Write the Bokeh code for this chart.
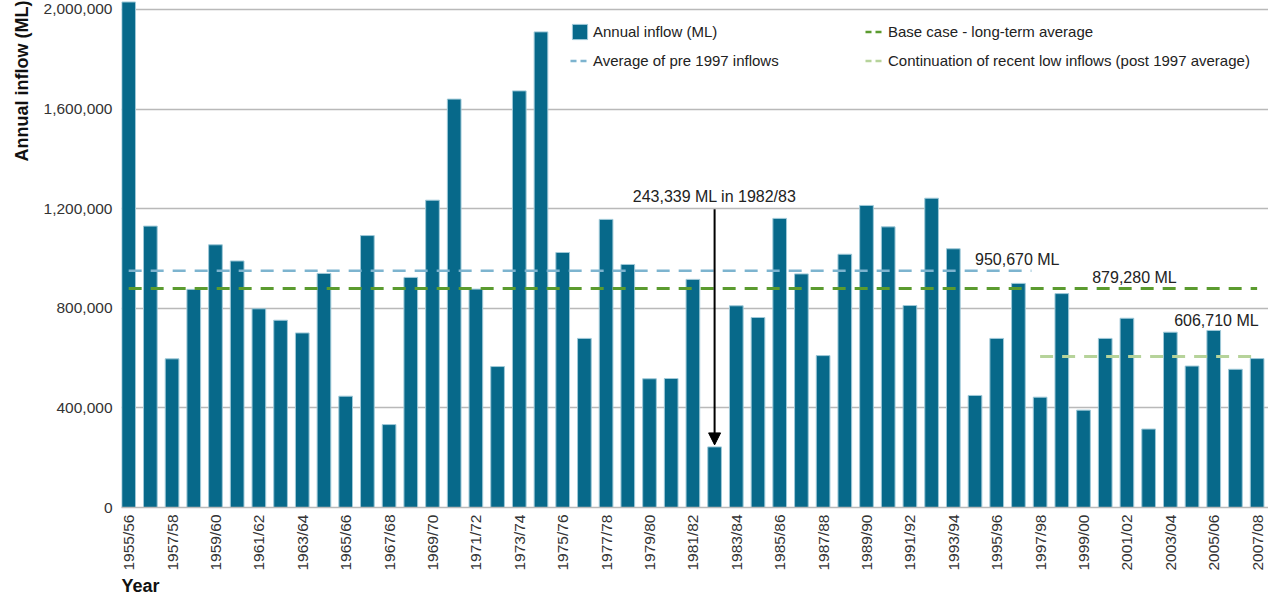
from bokeh.plotting import figure
from bokeh.models import (Range1d, FixedTicker, NumeralTickFormatter, Legend, LegendItem,
                          Label, Arrow, NormalHead, Title, ColumnDataSource)
from bokeh.embed import file_html
from bokeh.resources import INLINE
import math

# ---------------- data ----------------
years = ["1955/56", "1956/57", "1957/58", "1958/59", "1959/60", "1960/61", "1961/62",
         "1962/63", "1963/64", "1964/65", "1965/66", "1966/67", "1967/68", "1968/69",
         "1969/70", "1970/71", "1971/72", "1972/73", "1973/74", "1974/75", "1975/76",
         "1976/77", "1977/78", "1978/79", "1979/80", "1980/81", "1981/82", "1982/83",
         "1983/84", "1984/85", "1985/86", "1986/87", "1987/88", "1988/89", "1989/90",
         "1990/91", "1991/92", "1992/93", "1993/94", "1994/95", "1995/96", "1996/97",
         "1997/98", "1998/99", "1999/00", "2000/01", "2001/02", "2002/03", "2003/04",
         "2004/05", "2005/06", "2006/07", "2007/08"]

inflow = [2030000, 1130000, 597000, 876000, 1055000, 990000, 798000,
          752000, 701000, 940000, 447000, 1092000, 333000, 924000,
          1234000, 1640000, 877000, 566000, 1673000, 1910000, 1024000,
          679000, 1157000, 976000, 517000, 518000, 916000, 243339,
          810000, 763000, 1161000, 938000, 610000, 1017000, 1213000,
          1127000, 811000, 1242000, 1039000, 450000, 679000, 900000,
          443000, 859000, 391000, 679000, 760000, 315000, 704000,
          568000, 711000, 555000, 598000]

y_ticks = [0, 400000, 800000, 1200000, 1600000, 2000000]

pre_1997_avg = 950670
long_term_avg = 879280
post_1997_avg = 606710

series_names = ["Annual inflow (ML)", "Average of pre 1997 inflows",
                "Base case - long-term average",
                "Continuation of recent low inflows (post 1997 average)"]
y_title = "Annual inflow (ML)"
x_title = "Year"

# ---------------- style ----------------
BAR = "#07698a"
BAR_EDGE = "#9fc9d8"
BLUE = "#7db4cf"
GREEN = "#5b9b2f"
LGREEN = "#b6d39a"
FONT = "Liberation Sans"

FRAME_W, FRAME_H = 1148, 507
p = figure(frame_width=FRAME_W, frame_height=FRAME_H, output_backend="svg",
           toolbar_location=None,
           x_range=Range1d(-0.33, 52.57), y_range=Range1d(0, 2036000),
           min_border_left=120, min_border_right=0, min_border_top=0,
           min_border_bottom=84)
p.outline_line_color = None
p.background_fill_color = "white"
p.border_fill_color = "white"

idx = list(range(len(years)))
src = ColumnDataSource(dict(x=idx, top=inflow, year=years))
bars = p.vbar(x="x", top="top", width=0.63, source=src, fill_color=BAR,
              line_color=BAR_EDGE, line_width=1)

# average lines
i_first = 0
i_pre_end = years.index("1996/97") + 0.6
i_post_start = years.index("1997/98")
i_last = len(years) - 1
DASH = "13 9"
p.line([i_first, i_pre_end], [pre_1997_avg, pre_1997_avg], line_color=BLUE,
       line_width=2.5, line_dash=DASH)
p.line([i_first, i_last], [long_term_avg, long_term_avg], line_color=GREEN,
       line_width=3, line_dash=DASH)
p.line([i_post_start, i_last], [post_1997_avg, post_1997_avg], line_color=LGREEN,
       line_width=3, line_dash=DASH)

# legend proxies (no visible data, only used for the legend glyphs)
NAN = [float("nan")]
LDASH = "6 4"
lb = p.line(NAN, NAN, line_color=BLUE, line_width=2.5, line_dash=LDASH)
lg = p.line(NAN, NAN, line_color=GREEN, line_width=2.5, line_dash=LDASH)
llg = p.line(NAN, NAN, line_color=LGREEN, line_width=2.5, line_dash=LDASH)

# axes
p.xgrid.grid_line_color = None
p.ygrid.grid_line_color = "#b9b9b9"
p.ygrid.grid_line_width = 1.3

p.yaxis.ticker = FixedTicker(ticks=y_ticks)
p.yaxis.formatter = NumeralTickFormatter(format="0,0")
p.yaxis.axis_line_color = None
p.yaxis.major_tick_line_color = None
p.yaxis.minor_tick_line_color = None
p.yaxis.major_tick_out = 0
p.yaxis.major_tick_in = 0
p.yaxis.major_label_text_font = FONT
p.yaxis.major_label_text_font_size = "15.5px"
p.yaxis.major_label_text_color = "#333333"
p.yaxis.major_label_standoff = 9

p.xaxis.ticker = FixedTicker(ticks=idx[::2])
p.xaxis.major_label_overrides = {i: years[i] for i in idx[::2]}
p.xaxis.major_label_orientation = math.pi / 2
p.xaxis.axis_line_color = "#b9b9b9"
p.xaxis.axis_line_width = 1.5
p.xaxis.major_tick_line_color = None
p.xaxis.minor_tick_line_color = None
p.xaxis.major_tick_out = 0
p.xaxis.major_tick_in = 0
p.xaxis.major_label_text_font = FONT
p.xaxis.major_label_text_font_size = "15.5px"
p.xaxis.major_label_text_color = "#333333"
p.xaxis.major_label_standoff = 7

p.add_layout(Title(text=y_title, align="right", text_font=FONT,
                   text_font_size="18px", text_font_style="bold",
                   text_color="#111111", standoff=18), "left")
p.add_layout(Title(text=x_title, align="left", text_font=FONT, text_font_size="18px",
                   text_font_style="bold", text_color="#111111", standoff=0), "below")

# legends (two columns); location is the legend's bottom-left in frame pixels
LEG_TOP, ROW_H, ROW_GAP = 22, 19, 10
leg_h = 2 * ROW_H + ROW_GAP
def mk_legend(items, x_px):
    return Legend(items=items, location=(x_px, FRAME_H - LEG_TOP - leg_h),
                  orientation="vertical", padding=0, margin=0, spacing=ROW_GAP,
                  glyph_width=19, glyph_height=ROW_H, label_height=ROW_H,
                  label_standoff=4, border_line_color=None, background_fill_alpha=0,
                  label_text_font=FONT, label_text_font_size="15px",
                  label_text_color="#222222")

leg1 = mk_legend([LegendItem(label=series_names[0], renderers=[bars]),
                  LegendItem(label=series_names[1], renderers=[lb])], 449)
leg2 = mk_legend([LegendItem(label=series_names[2], renderers=[lg]),
                  LegendItem(label=series_names[3], renderers=[llg])], 744)
p.add_layout(leg1, "center")
p.add_layout(leg2, "center")

# annotations
lbl_style = dict(text_font=FONT, text_font_size="16px", text_color="#222222",
                 text_baseline="middle")
p.add_layout(Label(x=39, y=997000, text=f"{pre_1997_avg:,} ML",
                   text_align="left", **lbl_style))
p.add_layout(Label(x=44.4, y=922000, text=f"{long_term_avg:,} ML",
                   text_align="left", **lbl_style))
p.add_layout(Label(x=52.07, y=749000, text=f"{post_1997_avg:,} ML",
                   text_align="right", **lbl_style))

low_i = inflow.index(min(inflow))
low_v = inflow[low_i]
p.add_layout(Label(x=low_i, y=1249000, text=f"{low_v:,} ML in {years[low_i]}",
                   text_align="center", **lbl_style))
p.add_layout(Arrow(end=NormalHead(size=12, fill_color="black", line_color="black"),
                   x_start=low_i, y_start=1198000, x_end=low_i, y_end=low_v + 8000,
                   line_color="black", line_width=2))

open("out.html", "w").write(file_html(p, INLINE))
